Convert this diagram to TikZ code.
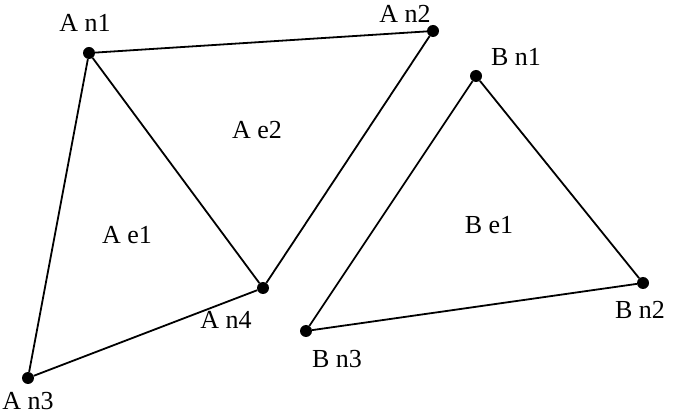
\documentclass[tikz,border=0pt]{standalone}
\usepackage{fontspec}
\setmainfont{Liberation Serif}
\begin{document}
\begin{tikzpicture}[x=1pt,y=-1pt,
  vtx/.style={circle,fill=black,inner sep=0pt,minimum size=12pt},
  lbl/.style={font=\fontsize{26}{28}\selectfont,inner sep=0pt},
  edge/.style={line width=1.8pt}]
\useasboundingbox (0,0) rectangle (673,414);
\node[vtx] (an1) at (89,53) {};
\node[vtx] (an2) at (433,31) {};
\node[vtx] (an4) at (263,288) {};
\node[vtx] (an3) at (28,378) {};
\node[vtx] (bn1) at (476,76) {};
\node[vtx] (bn2) at (643,283) {};
\node[vtx] (bn3) at (306,331) {};
\draw[edge] (an1) -- (an2) -- (an4) -- (an1) -- (an3) -- (an4);
\draw[edge] (bn1) -- (bn2) -- (bn3) -- (bn1);
\node[lbl] (la1) at (85,23) {A n1};
\node[lbl] (la2) at (405,14) {A n2};
\node[lbl] (la4) at (226,320) {A n4};
\node[lbl] (la3) at (28,401) {A n3};
\node[lbl] (lae2) at (257,130) {A e2};
\node[lbl] (lae1) at (127,235) {A e1};
\node[lbl] (lb1) at (516,57) {B n1};
\node[lbl] (lb2) at (640,310) {B n2};
\node[lbl] (lb3) at (337,359) {B n3};
\node[lbl] (lbe1) at (489,225) {B e1};
\end{tikzpicture}
\end{document}
